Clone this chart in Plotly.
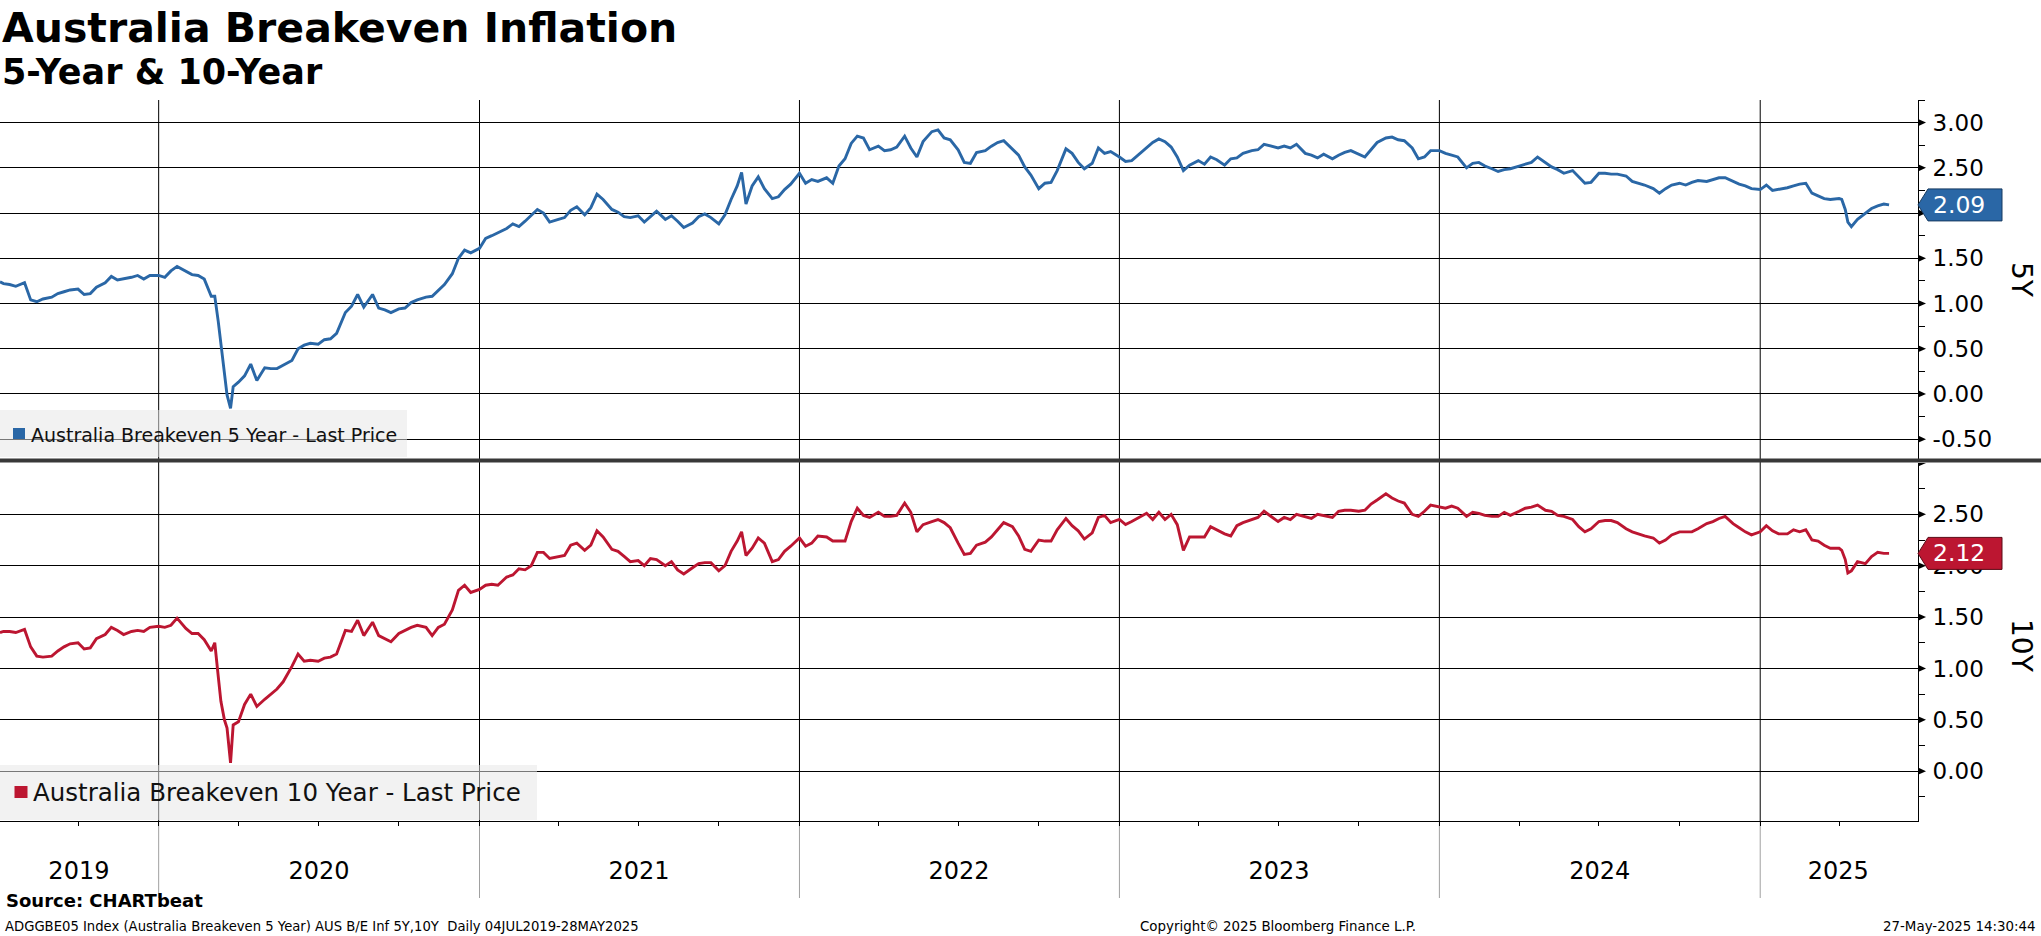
import pandas as pd
import plotly.graph_objects as go

# ---------------- data ----------------
std_days = [1, 8, 15, 22]
special_days = {
    "2019-07": [4, 8, 15, 22],
    "2020-03": [1, 5, 9, 12, 16, 19, 23, 26],
    "2021-10": [1, 8, 15, 22, 27],
    "2025-04": [1, 4, 8, 11, 15, 22],
    "2025-05": [1, 8, 15, 22, 28],
}
months = [p.strftime("%Y-%m") for p in pd.period_range("2019-07", "2025-05", freq="M")]

be5y_by_month = [
    [1.24, 1.22, 1.21, 1.19], [1.23, 1.04, 1.02, 1.05], [1.07, 1.11, 1.13, 1.15],
    [1.16, 1.10, 1.11, 1.18], [1.23, 1.30, 1.26, 1.27], [1.29, 1.31, 1.27, 1.31],
    [1.31, 1.29, 1.36, 1.41], [1.36, 1.32, 1.31, 1.27],
    [1.08, 1.08, 0.80, 0.55, 0.18, -0.01, -0.16, 0.08],
    [0.13, 0.20, 0.33, 0.15], [0.29, 0.28, 0.28, 0.32], [0.37, 0.50, 0.54, 0.56],
    [0.55, 0.60, 0.61, 0.67], [0.90, 0.97, 1.10, 0.96], [1.10, 0.95, 0.93, 0.90],
    [0.94, 0.95, 1.01, 1.04], [1.07, 1.08, 1.14, 1.21], [1.33, 1.50, 1.59, 1.56],
    [1.61, 1.72, 1.75, 1.78], [1.83, 1.88, 1.85, 1.91], [1.97, 2.04, 2.00, 1.90],
    [1.93, 1.95, 2.03, 2.07], [1.98, 2.06, 2.21, 2.15], [2.04, 2.01, 1.96, 1.95],
    [1.97, 1.90, 1.96, 2.02], [1.93, 1.97, 1.91, 1.84], [1.89, 1.96, 1.99, 1.95],
    [1.88, 1.98, 2.15, 2.30, 2.45], [2.10, 2.30, 2.40, 2.27], [2.16, 2.18, 2.26, 2.32],
    [2.44, 2.33, 2.37, 2.35], [2.39, 2.33, 2.52, 2.60], [2.77, 2.85, 2.83, 2.70],
    [2.74, 2.69, 2.70, 2.73], [2.85, 2.72, 2.62, 2.79], [2.90, 2.92, 2.83, 2.81],
    [2.70, 2.56, 2.55, 2.67], [2.69, 2.74, 2.78, 2.80], [2.71, 2.64, 2.51, 2.42],
    [2.27, 2.33, 2.34, 2.47], [2.71, 2.66, 2.56, 2.49], [2.55, 2.72, 2.66, 2.68],
    [2.62, 2.57, 2.58, 2.64], [2.73, 2.78, 2.82, 2.79], [2.73, 2.62, 2.47, 2.53],
    [2.58, 2.54, 2.62, 2.59], [2.53, 2.60, 2.61, 2.66], [2.69, 2.70, 2.76, 2.74],
    [2.72, 2.74, 2.72, 2.76], [2.66, 2.64, 2.61, 2.65], [2.60, 2.64, 2.67, 2.69],
    [2.65, 2.62, 2.70, 2.78], [2.83, 2.84, 2.81, 2.80], [2.72, 2.60, 2.62, 2.69],
    [2.69, 2.66, 2.64, 2.62], [2.50, 2.55, 2.56, 2.52], [2.49, 2.46, 2.48, 2.49],
    [2.52, 2.54, 2.56, 2.62], [2.56, 2.51, 2.48, 2.44], [2.47, 2.40, 2.33, 2.34],
    [2.44, 2.44, 2.43, 2.43], [2.41, 2.35, 2.33, 2.31], [2.27, 2.22, 2.27, 2.31],
    [2.33, 2.31, 2.34, 2.36], [2.35, 2.37, 2.39, 2.39], [2.35, 2.32, 2.30, 2.27],
    [2.26, 2.31, 2.25, 2.26], [2.28, 2.30, 2.32, 2.33], [2.22, 2.19, 2.16, 2.15],
    [2.16, 2.15, 2.04, 1.90, 1.85, 1.93], [2.00, 2.05, 2.08, 2.10, 2.09],
]

be10y_by_month = [
    [1.35, 1.36, 1.36, 1.35], [1.38, 1.21, 1.12, 1.11], [1.12, 1.17, 1.21, 1.24],
    [1.25, 1.19, 1.20, 1.29], [1.33, 1.40, 1.37, 1.33], [1.36, 1.37, 1.36, 1.40],
    [1.41, 1.40, 1.42, 1.49], [1.39, 1.34, 1.34, 1.28],
    [1.17, 1.25, 0.92, 0.68, 0.50, 0.42, 0.08, 0.45],
    [0.48, 0.65, 0.75, 0.63], [0.70, 0.75, 0.80, 0.87], [1.02, 1.14, 1.07, 1.08],
    [1.07, 1.10, 1.11, 1.14], [1.37, 1.36, 1.47, 1.32], [1.45, 1.32, 1.29, 1.26],
    [1.34, 1.37, 1.40, 1.42], [1.40, 1.32, 1.40, 1.43], [1.57, 1.76, 1.81, 1.74],
    [1.77, 1.81, 1.82, 1.81], [1.89, 1.91, 1.97, 1.96], [2.00, 2.13, 2.13, 2.07],
    [2.09, 2.10, 2.20, 2.22], [2.15, 2.20, 2.34, 2.28], [2.16, 2.14, 2.09, 2.04],
    [2.05, 2.00, 2.07, 2.06], [2.00, 2.04, 1.96, 1.92], [1.98, 2.02, 2.03, 2.03],
    [1.95, 2.00, 2.14, 2.24, 2.33], [2.10, 2.17, 2.27, 2.22], [2.04, 2.06, 2.14, 2.19],
    [2.27, 2.19, 2.22, 2.29], [2.28, 2.24, 2.24, 2.24], [2.43, 2.56, 2.49, 2.47],
    [2.52, 2.48, 2.48, 2.49], [2.61, 2.52, 2.33, 2.40], [2.43, 2.45, 2.42, 2.37],
    [2.22, 2.11, 2.12, 2.20], [2.23, 2.28, 2.35, 2.42], [2.38, 2.29, 2.16, 2.14],
    [2.25, 2.24, 2.24, 2.35], [2.46, 2.39, 2.34, 2.26], [2.32, 2.47, 2.49, 2.42],
    [2.45, 2.40, 2.43, 2.46], [2.51, 2.45, 2.52, 2.45], [2.50, 2.40, 2.15, 2.28],
    [2.28, 2.28, 2.38, 2.35], [2.31, 2.29, 2.39, 2.42], [2.45, 2.47, 2.53, 2.49],
    [2.43, 2.47, 2.45, 2.50], [2.48, 2.46, 2.50, 2.49], [2.47, 2.53, 2.54, 2.54],
    [2.53, 2.54, 2.60, 2.64], [2.70, 2.66, 2.63, 2.61], [2.50, 2.48, 2.53, 2.59],
    [2.57, 2.56, 2.58, 2.56], [2.48, 2.52, 2.51, 2.49], [2.48, 2.48, 2.52, 2.49],
    [2.53, 2.56, 2.57, 2.59], [2.54, 2.53, 2.49, 2.48], [2.45, 2.38, 2.33, 2.36],
    [2.43, 2.44, 2.44, 2.42], [2.36, 2.33, 2.31, 2.29], [2.27, 2.22, 2.25, 2.30],
    [2.33, 2.33, 2.33, 2.36], [2.41, 2.43, 2.46, 2.48], [2.41, 2.37, 2.33, 2.30],
    [2.33, 2.39, 2.34, 2.31], [2.31, 2.35, 2.33, 2.35], [2.25, 2.24, 2.20, 2.17],
    [2.17, 2.15, 2.06, 1.93, 1.95, 2.04], [2.02, 2.09, 2.13, 2.12, 2.12],
]

# axis ticks / labels
y5_ticks = [-0.5, 0.0, 0.5, 1.0, 1.5, 2.0, 2.5, 3.0]
y5_ticktext = ["-0.50", "0.00", "0.50", "1.00", "1.50", "2.00", "2.50", "3.00"]
y5_minor = [-0.25, 0.25, 0.75, 1.25, 1.75, 2.25, 2.75, 3.25]
y10_ticks = [0.0, 0.5, 1.0, 1.5, 2.0, 2.5, 3.0]
y10_ticktext = ["0.00", "0.50", "1.00", "1.50", "2.00", "2.50", ""]
y10_minor = [-0.25, 0.25, 0.75, 1.25, 1.75, 2.25, 2.75]
year_starts = ["2020-01-01", "2021-01-01", "2022-01-01", "2023-01-01", "2024-01-01", "2025-01-01"]
year_label_pos = ["2019-10-02", "2020-07-02", "2021-07-02", "2022-07-02", "2023-07-02",
                  "2024-07-02", "2025-03-31"]
year_labels = ["2019", "2020", "2021", "2022", "2023", "2024", "2025"]
quarter_ticks = [d.strftime("%Y-%m-%d") for d in pd.date_range("2019-10-01", "2025-04-01", freq="QS")]
x_range = ["2019-07-04", "2025-06-30"]

# ---------------- assemble ----------------
dates, be5y, be10y = [], [], []
for m, v5, v10 in zip(months, be5y_by_month, be10y_by_month):
    days = special_days.get(m, std_days)
    if len(days) != len(v5) or len(days) != len(v10):
        raise ValueError("length mismatch in " + m)
    dates += [f"{m}-{d:02d}" for d in days]
    be5y += v5
    be10y += v10

BLUE = "#2a67a6"
RED = "#bc1631"
FONT = "DejaVu Sans"

W, H = 2041, 936
ML, MR, MT, MB = 0, 123, 100, 115
PW = W - ML - MR
PH = H - MT - MB


def px(xp):
    return (xp - ML) / PW


def py(yp):
    return (H - MB - yp) / PH


fig = go.Figure()
fig.add_trace(go.Scatter(x=dates, y=be5y, xaxis="x2", yaxis="y2", mode="lines",
                         line=dict(color=BLUE, width=2.9),
                         name="Australia Breakeven 5 Year - Last Price"))
fig.add_trace(go.Scatter(x=dates, y=be10y, xaxis="x", yaxis="y", mode="lines",
                         line=dict(color=RED, width=2.9),
                         name="Australia Breakeven 10 Year - Last Price"))

yaxis_common = dict(
    side="right", showgrid=True, gridcolor="black", gridwidth=1, zeroline=False,
    showline=True, linecolor="black", linewidth=1, tickmode="array",
    ticks="outside", ticklen=9, tickcolor="rgba(0,0,0,0)",
    tickfont=dict(family=FONT, size=23, color="black"),
)

fig.update_layout(
    width=W, height=H, margin=dict(l=ML, r=MR, t=MT, b=MB),
    paper_bgcolor="white", plot_bgcolor="rgba(0,0,0,0)", showlegend=False,
    xaxis=dict(domain=[0, 1], anchor="y", type="date", range=x_range,
               tickmode="array", tickvals=year_label_pos, ticktext=year_labels,
               ticks="", showgrid=False, zeroline=False, showline=True,
               linecolor="black", linewidth=1, ticklabelstandoff=28,
               tickfont=dict(family=FONT, size=24, color="black"),
               minor=dict(tickmode="array", tickvals=quarter_ticks, ticks="outside", ticklen=4,
                          tickcolor="black", tickwidth=1, showgrid=False)),
    xaxis2=dict(domain=[0, 1], anchor="y2", type="date", matches="x",
                showticklabels=False, ticks="", showgrid=False, zeroline=False, showline=False),
    yaxis=dict(domain=[0, py(463)], anchor="x", range=[-0.485, 3.0],
               tickvals=y10_ticks, ticktext=y10_ticktext,
               minor=dict(tickmode="array", tickvals=y10_minor, ticks="outside", ticklen=6,
                          tickcolor="black", tickwidth=1, showgrid=False),
               **yaxis_common),
    yaxis2=dict(domain=[py(460), 1], anchor="x2", range=[-0.73, 3.25],
                tickvals=y5_ticks, ticktext=y5_ticktext,
                minor=dict(tickmode="array", tickvals=y5_minor, ticks="outside", ticklen=6,
                           tickcolor="black", tickwidth=1, showgrid=False),
                **yaxis_common),
)

shapes = []
# year boundary lines
for ys in year_starts:
    shapes.append(dict(type="line", xref="x", yref="paper", x0=ys, x1=ys, y0=0, y1=1,
                       line=dict(color="black", width=1), layer="below"))
    shapes.append(dict(type="line", xref="x", yref="paper", x0=ys, x1=ys, y0=py(898), y1=0,
                       line=dict(color="#a0a0a0", width=1), layer="below"))
# panel separator
shapes.append(dict(type="line", xref="paper", yref="paper", x0=0, x1=px(W), y0=py(460.5),
                   y1=py(460.5), line=dict(color="#383838", width=4), layer="above"))
# major tick triangles
tw = 8 / PW
for t in y5_ticks:
    h = 3.6 / (360 / (3.25 + 0.73))
    shapes.append(dict(type="path", xref="paper", yref="y2",
                       path=f"M 1,{t + h} L {1 + tw},{t} L 1,{t - h} Z",
                       fillcolor="black", line=dict(width=0), layer="above"))
for t in y10_ticks:
    h = 3.6 / (358 / (3.0 + 0.485))
    shapes.append(dict(type="path", xref="paper", yref="y",
                       path=f"M 1,{t + h} L {1 + tw},{t} L 1,{t - h} Z",
                       fillcolor="black", line=dict(width=0), layer="above"))
# last value tags
for val, yref, unit_px, col, edge in [(be5y[-1], "y2", 360 / (3.25 + 0.73), BLUE, "#173a60"),
                                      (be10y[-1], "y", 358 / (3.0 + 0.485), RED, "#5a0a16")]:
    h = 16 / unit_px
    xa, xb = px(1928), px(2002)
    shapes.append(dict(type="path", xref="paper", yref=yref,
                       path=f"M 1,{val} L {xa},{val + h} L {xb},{val + h} L {xb},{val - h} L {xa},{val - h} Z",
                       fillcolor=col, line=dict(color=edge, width=1), layer="above"))
# legend boxes
legend_bg = "rgba(230,230,230,0.52)"
shapes.append(dict(type="rect", xref="paper", yref="paper", x0=0, x1=px(407), y0=py(457), y1=py(410),
                   fillcolor=legend_bg, line=dict(width=0), layer="above"))
shapes.append(dict(type="rect", xref="paper", yref="paper", x0=px(13), x1=px(25), y0=py(439), y1=py(428),
                   fillcolor=BLUE, line=dict(width=0), layer="above"))
shapes.append(dict(type="rect", xref="paper", yref="paper", x0=0, x1=px(537), y0=py(820), y1=py(765),
                   fillcolor=legend_bg, line=dict(width=0), layer="above"))
shapes.append(dict(type="rect", xref="paper", yref="paper", x0=px(14.5), x1=px(27.5), y0=py(798), y1=py(786),
                   fillcolor=RED, line=dict(width=0), layer="above"))
fig.update_layout(shapes=shapes)

ann = []


def text(t, x, y, size, xanchor="left", bold=False, color="black", angle=0, yref="paper"):
    ann.append(dict(text=f"<b>{t}</b>" if bold else t, x=x, y=y, xref="paper", yref=yref,
                    xanchor=xanchor, yanchor="middle", showarrow=False, textangle=angle,
                    font=dict(family=FONT, size=size, color=color)))


text("Australia Breakeven Inflation", px(0), py(28), 41, bold=True)
text("5-Year &amp; 10-Year", px(0), py(72), 35, bold=True)
text("Source: CHARTbeat", px(4), py(900), 18, bold=True)
text("ADGGBE05 Index (Australia Breakeven 5 Year) AUS B/E Inf 5Y,10Y  Daily 04JUL2019-28MAY2025",
     px(3), py(926), 13.2)
text("Copyright© 2025 Bloomberg Finance L.P.", px(1278), py(926), 13.4, xanchor="center")
text("27-May-2025 14:30:44", px(2038), py(926), 13.4, xanchor="right")
text("5Y", px(2022), py(280), 28, xanchor="center", angle=90)
text("10Y", px(2022), py(646), 28, xanchor="center", angle=90)
text("Australia Breakeven 5 Year - Last Price", px(29), py(434.5), 19, color="#111111")
text("Australia Breakeven 10 Year - Last Price", px(31), py(792.5), 24.5, color="#111111")
text(f"{be5y[-1]:.2f}", px(1931), be5y[-1], 23.5, color="white", yref="y2")
text(f"{be10y[-1]:.2f}", px(1931), be10y[-1], 23.5, color="white", yref="y")
fig.update_layout(annotations=ann)

fig.write_html("out.html", config={"displayModeBar": False},
               post_script="document.body.style.margin='0px';document.body.style.overflow='hidden';")
